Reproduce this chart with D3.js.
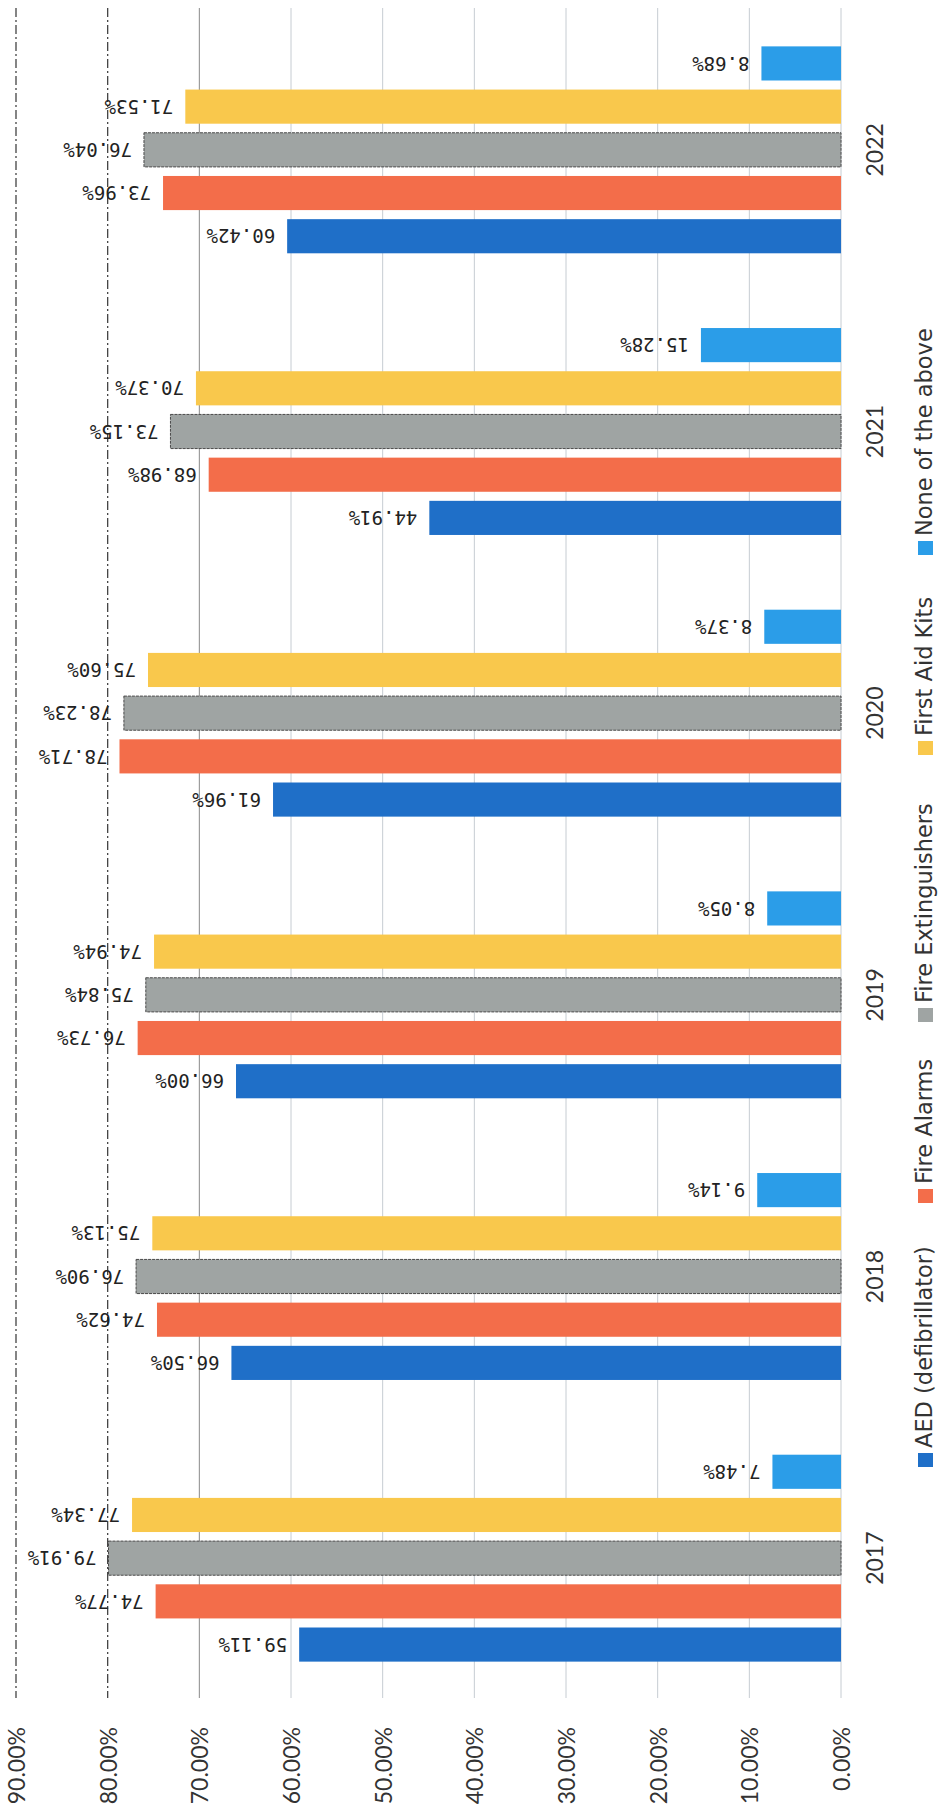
<!DOCTYPE html>
<html>
<head>
<meta charset="utf-8">
<script src="https://cdn.jsdelivr.net/npm/d3@7"></script>
<style>
  html, body { margin: 0; padding: 0; background: #fff; }
  svg { display: block; }
</style>
</head>
<body>
<svg id="chart" width="941" height="1815"></svg>
<script>
const years = ["2017", "2018", "2019", "2020", "2021", "2022"];
const seriesNames = ["AED (defibrillator)", "Fire Alarms", "Fire Extinguishers", "First Aid Kits", "None of the above"];
const aed           = [59.11, 66.50, 66.00, 61.96, 44.91, 60.42];
const fireAlarms    = [74.77, 74.62, 76.73, 78.71, 68.98, 73.96];
const extinguishers = [79.91, 76.90, 75.84, 78.23, 73.15, 76.04];
const firstAid      = [77.34, 75.13, 74.94, 75.60, 70.37, 71.53];
const noneAbove     = [7.48, 9.14, 8.05, 8.37, 15.28, 8.68];
const tickValues = [0, 10, 20, 30, 40, 50, 60, 70, 80, 90];

const seriesValues = [aed, fireAlarms, extinguishers, firstAid, noneAbove];
const colors = ["#1f6fc8", "#f36d4a", "#9fa4a3", "#f9c84c", "#2b9de8"];

const svg = d3.select("#chart");
const font = "Lato, 'Open Sans', sans-serif";

// value axis runs right (0%) to left (90%)
const x = d3.scaleLinear().domain([0, 90]).range([841, 16]);
// categories run bottom (2017) to top (2022)
const yBand = d3.scaleBand().domain(years).range([1699, 9]);
const half = 108;
const ySeries = d3.scaleBand().domain(seriesNames)
  .range([yBand.bandwidth() / 2 + half, yBand.bandwidth() / 2 - half])
  .paddingInner(0.21).paddingOuter(0.105);

// gridlines
const grid = svg.append("g");
tickValues.forEach(t => {
  const dark = t >= 80;
  grid.append("line")
    .attr("x1", x(t)).attr("x2", x(t))
    .attr("y1", 8).attr("y2", 1698)
    .attr("stroke", dark ? "#444" : (t === 70 ? "#8a8a8a" : "#c6ccd2"))
    .attr("stroke-width", dark ? 1.3 : 1)
    .attr("stroke-dasharray", dark ? "9,3,2,3" : null);
});

// tick labels (rotated, reading bottom-to-top)
svg.append("g").selectAll("text").data(tickValues).join("text")
  .attr("transform", d => `translate(${x(d) + 9},1727) rotate(-90)`)
  .attr("text-anchor", "end")
  .attr("font-family", font).attr("font-size", 23)
  .attr("fill", "#333")
  .text(d => d3.format(".2f")(d) + "%");

// bars
const groups = svg.append("g").selectAll("g").data(years).join("g")
  .attr("transform", d => `translate(0,${yBand(d)})`);

groups.each(function(yr, yi) {
  const g = d3.select(this);
  seriesNames.forEach((s, si) => {
    const v = seriesValues[si][yi];
    g.append("rect")
      .attr("x", x(v)).attr("width", x(0) - x(v))
      .attr("y", ySeries(s)).attr("height", ySeries.bandwidth())
      .attr("fill", colors[si])
      .attr("stroke", si === 2 ? "#4a4a4a" : "none")
      .attr("stroke-width", si === 2 ? 1 : 0)
      .attr("stroke-dasharray", si === 2 ? "3,1" : null);
    // upside-down data label to the left of the bar end
    g.append("text")
      .attr("transform", `translate(${x(v) - 12},${ySeries(s) + ySeries.bandwidth() / 2}) rotate(180)`)
      .attr("text-anchor", "start")
      .attr("dy", "0.36em")
      .attr("font-family", "'DejaVu Sans Mono', monospace")
      .attr("font-size", 19)
      .attr("fill", "#222")
      .text(v.toFixed(2) + "%");
  });
  // year label
  g.append("text")
    .attr("transform", `translate(883,${yBand.bandwidth() / 2}) rotate(-90)`)
    .attr("text-anchor", "middle")
    .attr("font-family", font).attr("font-size", 23)
    .attr("fill", "#333")
    .text(yr);
});

// legend (rotated)
const legendPos = [1460, 1196, 1015, 748, 548];
const legend = svg.append("g");
seriesNames.forEach((s, i) => {
  const yy = legendPos[i];
  legend.append("rect")
    .attr("x", 918).attr("y", yy - 7).attr("width", 15).attr("height", 14)
    .attr("fill", colors[i]);
  legend.append("text")
    .attr("transform", `translate(932,${yy - 12}) rotate(-90)`)
    .attr("text-anchor", "start")
    .attr("font-family", "'DejaVu Sans', sans-serif").attr("font-size", 22.5)
    .attr("fill", "#333")
    .text(s);
});
</script>
</body>
</html>
